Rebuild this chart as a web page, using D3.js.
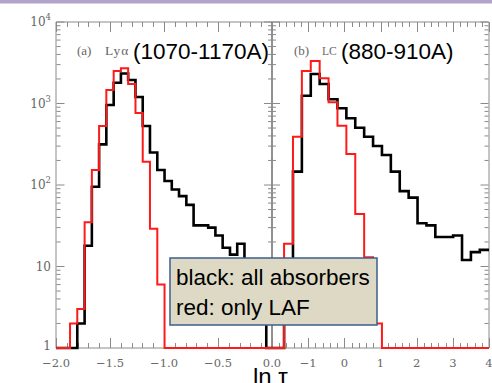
<!DOCTYPE html>
<html><head><meta charset="utf-8">
<script src="https://cdn.jsdelivr.net/npm/d3@7"></script>
<style>html,body{margin:0;padding:0;background:#fff;overflow:hidden}</style>
</head><body>
<script>
// ---- data ----
// panel (a): Lya forest window, left edges of bins (x units of the panel)
const lyaBinEdges = [-1.870,-1.803,-1.735,-1.668,-1.601,-1.534,-1.466,-1.399,-1.332,-1.264,-1.197,-1.130,-1.062,-0.995,-0.928,-0.861,-0.793,-0.726,-0.659,-0.591,-0.524,-0.457,-0.389,-0.322,-0.255,-0.188,-0.120,-0.053];
const lyaAll = [1,2,18,95,315,960,1800,2330,1940,1200,530,250,153,112,88,73,57,32,32,30,24,17,14,19,9,5,3,1];
const lyaLAF = [2,3,35,153,530,1465,2500,2700,1735,765,193,29,6,1,1,1,1,1,1,1,1,1,1,1,1,1,1,1];
// panel (b): Lyman continuum window, left edges of bins (ln tau)
const lcBinEdges = [-1.666,-1.420,-1.174,-0.928,-0.682,-0.436,-0.190,0.056,0.302,0.548,0.794,1.040,1.286,1.532,1.778,2.024,2.270,2.516,2.762,3.008,3.254,3.500,3.746];
const lcAll = [5,146,1247,2300,1736,1126,873,658,505,391,301,233,146,84,70,34,32,23,23,24,12,15,16];
const lcLAF = [19,391,2505,3322,2038,1035,534,240,44,13,2,1,1,1,1,1,1,1,1,1,1,1,1];
// ticks / labels
const lyaTicks = [-2.0,-1.5,-1.0,-0.5,0.0];
const lyaTickLabels = ["\u22122.0","\u22121.5","\u22121.0","\u22120.5","0.0"];
const lcTicks = [-1,0,1,2,3,4];
const lcTickLabels = ["\u22121","0","1","2","3","4"];
const yTicks = [1,10,100,1000,10000];
const yTickBase = ["1","10","10","10","10"];
const yTickExp = ["","","2","3","4"];
const legendLines = ["black: all absorbers","red: only LAF"];

// ---- layout ----
const W = 492, H = 383;
const plotTop = 22, plotBottom = 348;
const svg = d3.select("body").append("svg").attr("width", W).attr("height", H);
svg.append("rect").attr("x",0).attr("y",0).attr("width",W).attr("height",H).attr("fill","#fff");
svg.append("rect").attr("x",0).attr("y",0).attr("width",W).attr("height",3.5).attr("fill","#b2a3ca");

const y = d3.scaleLog().domain([1, 1e4]).range([plotBottom, plotTop]);
const xL = d3.scaleLinear().domain([-2, 0]).range([56, 272]);
const xR = d3.scaleLinear().domain([-2, 4]).range([272, 489]);

const gray = "#8a8a8a";
const labGray = "#666";

// frame
const frame = svg.append("g");
frame.append("line").attr("x1",56).attr("x2",489).attr("y1",plotTop).attr("y2",plotTop).attr("stroke",gray);
frame.append("line").attr("x1",56).attr("x2",489).attr("y1",plotBottom).attr("y2",plotBottom).attr("stroke",gray);
frame.append("line").attr("x1",56).attr("x2",56).attr("y1",plotTop).attr("y2",plotBottom).attr("stroke",gray);
frame.append("line").attr("x1",489).attr("x2",489).attr("y1",plotTop).attr("y2",plotBottom).attr("stroke",gray);
frame.append("line").attr("x1",272).attr("x2",272).attr("y1",plotTop).attr("y2",plotBottom).attr("stroke","#222");

// y ticks
const yMinor = [];
[1,10,100,1000].forEach(d => { for (let m=2;m<=9;m++) yMinor.push(d*m); });
function yTickSet(x0, dir) {
  yTicks.forEach(v => frame.append("line").attr("x1",x0).attr("x2",x0+dir*8)
    .attr("y1",y(v)).attr("y2",y(v)).attr("stroke",gray));
  yMinor.forEach(v => frame.append("line").attr("x1",x0).attr("x2",x0+dir*4)
    .attr("y1",y(v)).attr("y2",y(v)).attr("stroke",gray));
}
yTickSet(56.5, 1); yTickSet(272, 1); yTickSet(272, -1); yTickSet(488.5, -1);

// x ticks
function xTickSet(sc, majors, minorStep) {
  const [d0, d1] = sc.domain();
  const n = Math.round((d1 - d0) / minorStep);
  for (let i = 0; i <= n; i++) {
    const v = d0 + i * minorStep;
    const isMajor = majors.some(m => Math.abs(m - v) < 1e-6);
    const len = isMajor ? 10 : 5;
    const px = Math.round(sc(v)) + 0.5;
    frame.append("line").attr("x1",px).attr("x2",px).attr("y1",plotBottom).attr("y2",plotBottom-len).attr("stroke",gray);
    frame.append("line").attr("x1",px).attr("x2",px).attr("y1",plotTop).attr("y2",plotTop+len).attr("stroke",gray);
  }
}
xTickSet(xL, lyaTicks, 0.1);
xTickSet(xR, [-2].concat(lcTicks), 0.2);

// clip paths
const defs = svg.append("defs");
defs.append("clipPath").attr("id","clipL").append("rect").attr("x",56).attr("y",0).attr("width",216).attr("height",H);
defs.append("clipPath").attr("id","clipR").append("rect").attr("x",272).attr("y",0).attr("width",217).attr("height",H);

function histPoints(sc, edges, vals) {
  const [d0, d1] = sc.domain();
  const pts = [[d0, 1]];
  edges.forEach((e, i) => pts.push([e, vals[i]]));
  pts.push([d1, vals[vals.length - 1]]);
  return pts;
}
function drawHist(sc, clip, edges, vals, color, width) {
  const line = d3.line().x(d => sc(d[0])).y(d => y(d[1])).curve(d3.curveStepAfter);
  svg.append("path").attr("clip-path", `url(#${clip})`)
    .attr("d", line(histPoints(sc, edges, vals)))
    .attr("fill","none").attr("stroke",color).attr("stroke-width",width)
    .attr("stroke-linejoin","miter");
}
drawHist(xL, "clipL", lyaBinEdges, lyaAll, "#000", 2.6);
drawHist(xL, "clipL", lyaBinEdges, lyaLAF, "#ff1a1a", 2);
drawHist(xR, "clipR", lcBinEdges, lcAll, "#000", 2.6);
drawHist(xR, "clipR", lcBinEdges, lcLAF, "#ff1a1a", 2);

// tick labels
const tickFont = "'DejaVu Serif', serif";
lyaTicks.forEach((v, i) => svg.append("text").attr("x", xL(v)).attr("y", 367)
  .attr("text-anchor","middle").attr("font-family",tickFont).attr("font-size",11.5)
  .attr("fill",labGray).text(lyaTickLabels[i]));
lcTicks.forEach((v, i) => svg.append("text").attr("x", xR(v)).attr("y", 367)
  .attr("text-anchor","middle").attr("font-family",tickFont).attr("font-size",11.5)
  .attr("fill",labGray).text(lcTickLabels[i]));
yTicks.forEach((v, i) => {
  const t = svg.append("text").attr("x", 51).attr("y", y(v) + 4 - (i === 0 ? 2 : 0))
    .attr("text-anchor","end").attr("font-family",tickFont).attr("font-size",12)
    .attr("fill",labGray);
  t.append("tspan").text(yTickBase[i]);
  if (yTickExp[i]) t.append("tspan").attr("dy",-6).attr("font-size",8.5).text(yTickExp[i]);
});

// panel labels
const serif = "'Liberation Serif', serif";
svg.append("text").attr("x",77).attr("y",55).attr("font-family",serif).attr("font-size",13).attr("fill",labGray).text("(a)");
svg.append("text").attr("x",105).attr("y",55).attr("font-family",serif).attr("font-size",13.5).attr("letter-spacing",1).attr("fill",labGray).text("Ly\u03b1");
svg.append("text").attr("x",294).attr("y",55).attr("font-family",serif).attr("font-size",13).attr("fill",labGray).text("(b)");
svg.append("text").attr("x",322).attr("y",55).attr("font-family",serif).attr("font-size",11.5).attr("fill",labGray).text("LC");
const sans = "'Liberation Sans', Arial, sans-serif";
svg.append("text").attr("x",133).attr("y",59).attr("font-family",sans).attr("font-size",22.5).attr("fill","#000").text("(1070-1170A)");
svg.append("text").attr("x",341).attr("y",59).attr("font-family",sans).attr("font-size",22.5).attr("fill","#000").text("(880-910A)");

// legend box
svg.append("rect").attr("x",170).attr("y",258).attr("width",207).attr("height",67)
  .attr("fill","#ddd9c4").attr("stroke","#3b5f8d").attr("stroke-width",1.5);
legendLines.forEach((s, i) => svg.append("text").attr("x",176).attr("y",285 + i*30)
  .attr("font-family",sans).attr("font-size",22.5).attr("fill","#000").text(s));

// axis title
svg.append("text").attr("x",253).attr("y",385).attr("font-family",sans).attr("font-size",24)
  .attr("fill","#000").text("ln \u03c4");
</script>
</body></html>
